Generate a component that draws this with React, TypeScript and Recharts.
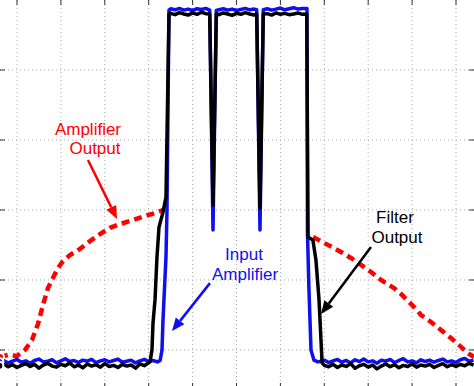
import React from 'react';
import { LineChart, Line, XAxis, YAxis, CartesianGrid, ReferenceLine, ReferenceDot } from 'recharts';

// time axis (grid every 10 units), normalised amplitude (grid every 0.2)
const xTicks = [0, 10, 20, 30, 40, 50, 60, 70, 80, 90, 100];
const yTicks = [0, 0.2, 0.4, 0.6, 0.8];

// Input amplifier (blue)
const blueBaseLeft = [-0.034, -0.030, -0.037, -0.032, -0.027, -0.035, -0.031, -0.038, -0.030, -0.026, -0.034, -0.032, -0.028, -0.037, -0.031, -0.025, -0.033, -0.030, -0.036, -0.029, -0.032, -0.027, -0.036, -0.031, -0.028, -0.034, -0.030, -0.026, -0.035, -0.032, -0.029, -0.037, -0.031, -0.027, -0.033, -0.030, -0.034];
const blueRise = [[32.6, -0.03], [33.03, 0], [33.26, 0.086], [33.94, 0.266], [34.17, 0.4], [34.62, 0.971]];
const bluePlateau1 = [0.975, 0.972, 0.976, 0.971, 0.974, 0.970, 0.975, 0.973, 0.976];
const blueDip1 = [[43.9, 0.971], [44.65, 0.343], [45.4, 0.970]];
const bluePlateau2 = [0.972, 0.975, 0.971, 0.974, 0.970, 0.973, 0.976, 0.972, 0.974];
const blueDip2 = [[54.6, 0.972], [55.35, 0.343], [56.1, 0.972]];
const bluePlateau3 = [0.975, 0.971, 0.974, 0.977, 0.972, 0.975, 0.978, 0.974, 0.976];
const blueFall = [[66.06, 0.976], [66.17, 0.334], [66.51, 0.171], [66.97, 0], [67.65, -0.029], [68.56, -0.034]];
const blueBaseRight = [-0.033, -0.029, -0.036, -0.031, -0.027, -0.035, -0.030, -0.037, -0.028, -0.033, -0.026, -0.034, -0.031, -0.038, -0.029, -0.032, -0.027, -0.036, -0.030, -0.025, -0.034, -0.031, -0.037, -0.028, -0.033, -0.029, -0.035, -0.030, -0.026, -0.034, -0.031, -0.036, -0.028, -0.024, -0.032, -0.029];

// Filter output (black)
const blackBaseLeft = [-0.045, -0.040, -0.048, -0.042, -0.050, -0.044, -0.039, -0.047, -0.041, -0.052, -0.043, -0.038, -0.046, -0.049, -0.041, -0.045, -0.037, -0.048, -0.043, -0.051, -0.040, -0.046, -0.042, -0.049, -0.039, -0.047, -0.044, -0.050, -0.041, -0.046, -0.043, -0.052, -0.040, -0.045];
const blackRise = [[30.3, -0.034], [30.75, 0], [30.98, 0.077], [31.44, 0.143], [31.89, 0.266], [32.35, 0.351], [33.26, 0.394], [33.94, 0.437], [34.62, 0.96]];
const blackPlateau1 = [0.962, 0.958, 0.964, 0.960, 0.957, 0.963, 0.959, 0.965, 0.961];
const blackDip1 = [[43.9, 0.96], [44.65, 0.414], [45.4, 0.96]];
const blackPlateau2 = [0.958, 0.963, 0.960, 0.956, 0.962, 0.959, 0.964, 0.960, 0.957];
const blackDip2 = [[54.6, 0.96], [55.35, 0.406], [56.1, 0.96]];
const blackPlateau3 = [0.961, 0.957, 0.963, 0.959, 0.962, 0.958, 0.960, 0.963, 0.959];
const blackFall = [[66.0, 0.96], [66.3, 0.323], [67.4, 0.314], [68.1, 0.257], [68.8, 0.143], [69.5, -0.037]];
const blackBaseRight = [-0.044, -0.048, -0.041, -0.050, -0.043, -0.047, -0.039, -0.052, -0.045, -0.041, -0.049, -0.043, -0.054, -0.046, -0.040, -0.048, -0.042, -0.051, -0.044, -0.047, -0.040, -0.049, -0.043, -0.046, -0.041, -0.050, -0.044, -0.039, -0.048, -0.042, -0.047, -0.041, -0.045, -0.038, -0.043];

// Amplifier output (red dashed), two branches
const redLeft = [[-3.87, -0.02], [-2.05, -0.014], [0, -0.017], [1.82, 0], [3.42, 0.029], [4.78, 0.074], [5.92, 0.129], [7.06, 0.177], [8.2, 0.206], [9.34, 0.234], [10.48, 0.254], [12.07, 0.271], [14.35, 0.289], [16.63, 0.311], [18.91, 0.331], [21.18, 0.349], [23.46, 0.36], [26.42, 0.371], [29.16, 0.383], [31.44, 0.391], [33.26, 0.4]];
const redRight = [[67.43, 0.323], [69.48, 0.309], [71.75, 0.294], [73.8, 0.28], [76.08, 0.263], [78.36, 0.243], [80.64, 0.223], [82.92, 0.2], [85.88, 0.177], [87.47, 0.16], [88.84, 0.143], [90.43, 0.123], [92.03, 0.1], [94.31, 0.08], [96.58, 0.057], [98.86, 0.034], [101.14, 0.009], [102.73, -0.009], [104.1, -0.02]];

type Pt = { x: number; y: number | null };
const fromStart = (start: number, ys: number[]): Pt[] => ys.map((y, i) => ({ x: start + i, y }));
const pairs = (p: number[][]): Pt[] => p.map(([x, y]) => ({ x, y }));

const blueData: Pt[] = [
  ...fromStart(-4, blueBaseLeft), ...pairs(blueRise),
  ...fromStart(35, bluePlateau1), ...pairs(blueDip1),
  ...fromStart(46, bluePlateau2), ...pairs(blueDip2),
  ...fromStart(57, bluePlateau3), ...pairs(blueFall),
  ...fromStart(69, blueBaseRight),
];
const blackData: Pt[] = [
  ...fromStart(-4, blackBaseLeft), ...pairs(blackRise),
  ...fromStart(35, blackPlateau1), ...pairs(blackDip1),
  ...fromStart(46, blackPlateau2), ...pairs(blackDip2),
  ...fromStart(57, blackPlateau3), ...pairs(blackFall),
  ...fromStart(70, blackBaseRight),
];
const redData: Pt[] = [...pairs(redLeft), { x: 50, y: null }, ...pairs(redRight)];

const RED = '#ff0000';
const BLUE = '#1010ee';
const BLACK = '#000000';
const FONT = '"Liberation Sans", Arial, Helvetica, sans-serif';

const NoLabel = () => <g />;

const arrowShape = (color: string) => (props: any) => {
  const { x1, y1, x2, y2 } = props;
  const ang = Math.atan2(y2 - y1, x2 - x1);
  const len = 13;
  const half = 5.5;
  const bx = x2 - len * Math.cos(ang);
  const by = y2 - len * Math.sin(ang);
  const px = -Math.sin(ang) * half;
  const py = Math.cos(ang) * half;
  return (
    <g>
      <line x1={x1} y1={y1} x2={bx} y2={by} stroke={color} strokeWidth={2.5} />
      <polygon points={`${x2},${y2} ${bx + px},${by + py} ${bx - px},${by - py}`} fill={color} />
    </g>
  );
};

const textShape = (label: string, color: string) => (props: any) => (
  <text x={props.cx} y={props.cy} textAnchor="middle" fill={color} fontSize={17} fontFamily={FONT}>
    {label}
  </text>
);

const labels = [
  { x: 16.17, y: 0.615, text: 'Amplifier', color: RED },
  { x: 17.77, y: 0.56, text: 'Output', color: RED },
  { x: 51.71, y: 0.257, text: 'Input', color: BLUE },
  { x: 51.94, y: 0.2, text: 'Amplifier', color: BLUE },
  { x: 86.1, y: 0.363, text: 'Filter', color: BLACK },
  { x: 86.56, y: 0.306, text: 'Output', color: BLACK },
];

const arrows = [
  { from: { x: 16.17, y: 0.543 }, to: { x: 22.78, y: 0.374 }, color: RED },
  { from: { x: 43.96, y: 0.191 }, to: { x: 35.31, y: 0.054 }, color: BLUE },
  { from: { x: 80.64, y: 0.294 }, to: { x: 69.25, y: 0.103 }, color: BLACK },
];

const xDomain = [-3.87, 104.1];
const yDomain = [-0.1086, 1];
const tickLine = { stroke: '#333', strokeWidth: 1 };

export default function App() {
  return (
    <div style={{ position: 'fixed', left: 0, top: 0, width: 474, height: 386, overflow: 'hidden', background: '#fff' }}>
      <LineChart width={474} height={388} margin={{ top: 0, right: 0, bottom: 0, left: 0 }}>
        <CartesianGrid stroke="#a8a8a8" strokeDasharray="1 3" horizontalValues={yTicks} verticalValues={xTicks} />
        <XAxis type="number" dataKey="x" domain={xDomain} ticks={xTicks} allowDataOverflow interval={0}
          mirror tick={<NoLabel />} tickSize={5} axisLine={false} tickLine={tickLine} />
        <XAxis xAxisId="top" orientation="top" type="number" dataKey="x" domain={xDomain} ticks={xTicks} allowDataOverflow interval={0}
          mirror tick={<NoLabel />} tickSize={5} axisLine={false} tickLine={tickLine} />
        <YAxis type="number" domain={yDomain} ticks={yTicks} allowDataOverflow interval={0}
          mirror tick={<NoLabel />} tickSize={5} axisLine={false} tickLine={tickLine} />
        <YAxis yAxisId="right" orientation="right" type="number" domain={yDomain} ticks={yTicks} allowDataOverflow interval={0}
          mirror tick={<NoLabel />} tickSize={5} axisLine={false} tickLine={tickLine} />
        <Line data={redData} dataKey="y" type="linear" stroke={RED} strokeWidth={4.5} strokeDasharray="8 5"
          dot={false} isAnimationActive={false} connectNulls={false} />
        <Line data={blueData} dataKey="y" type="linear" stroke={BLUE} strokeWidth={3.5} strokeLinejoin="round"
          dot={false} isAnimationActive={false} />
        <Line data={blackData} dataKey="y" type="linear" stroke={BLACK} strokeWidth={3.5} strokeLinejoin="round"
          dot={false} isAnimationActive={false} />
        {arrows.map((a, i) => (
          <ReferenceLine key={`a${i}`} segment={[a.from, a.to]} ifOverflow="visible" shape={arrowShape(a.color)} />
        ))}
        {labels.map((l, i) => (
          <ReferenceDot key={`l${i}`} x={l.x} y={l.y} r={0} ifOverflow="visible" shape={textShape(l.text, l.color)} />
        ))}
      </LineChart>
    </div>
  );
}
